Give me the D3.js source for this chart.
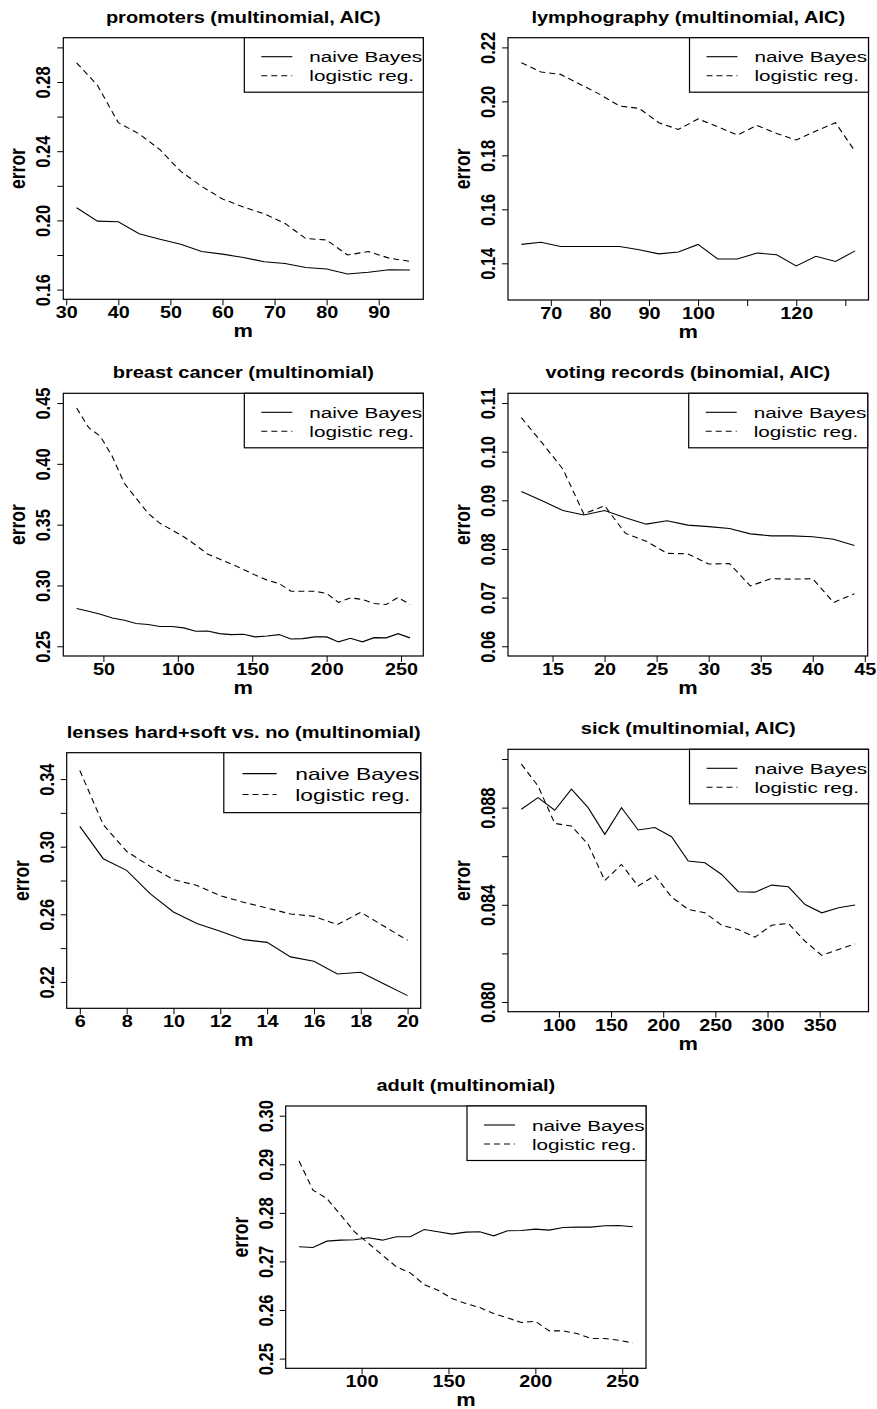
<!DOCTYPE html>
<html>
<head>
<meta charset="utf-8">
<script src="https://cdnjs.cloudflare.com/ajax/libs/d3/7.8.5/d3.min.js"></script>
<style>
  body { margin: 0; background: #fff; }
  svg text { font-family: "Liberation Sans", Arial, Helvetica, sans-serif; }
</style>
</head>
<body>
<div id="chart"></div>
<script>
// ---- data ----
const seriesNames = ["naive Bayes", "logistic reg."];

const promotersM = [32, 36, 40, 44, 48, 52, 56, 60, 64, 68, 72, 76, 80, 84, 88, 92, 96];
const promotersNaive = [0.2073, 0.1996, 0.1992, 0.1923, 0.1891, 0.1862, 0.1820, 0.1805, 0.1786, 0.1761, 0.1751, 0.1728, 0.1719, 0.1690, 0.1700, 0.1715, 0.1713];
const promotersLogit = [0.2911, 0.2781, 0.2565, 0.2500, 0.2409, 0.2283, 0.2197, 0.2124, 0.2078, 0.2038, 0.1983, 0.1895, 0.1887, 0.1800, 0.1820, 0.1782, 0.1763];
const promotersXTicks = [30, 40, 50, 60, 70, 80, 90];
const promotersXLabels = ["30", "40", "50", "60", "70", "80", "90"];
const promotersYTicks = [0.16, 0.18, 0.20, 0.22, 0.24, 0.26, 0.28, 0.30];
const promotersYLabels = ["0.16", "", "0.20", "", "0.24", "", "0.28", ""];

const lymphM = [64, 68, 72, 76, 80, 84, 88, 92, 96, 100, 104, 108, 112, 116, 120, 124, 128, 132];
const lymphNaive = [0.1470, 0.1478, 0.1462, 0.1462, 0.1462, 0.1462, 0.1450, 0.1435, 0.1442, 0.1470, 0.1416, 0.1416, 0.1438, 0.1432, 0.1390, 0.1426, 0.1407, 0.1446];
const lymphLogit = [0.2143, 0.2109, 0.2100, 0.2063, 0.2026, 0.1983, 0.1974, 0.1921, 0.1896, 0.1935, 0.1906, 0.1875, 0.1911, 0.1881, 0.1857, 0.1890, 0.1921, 0.1814];
const lymphXTicks = [70, 80, 90, 100, 110, 120, 130];
const lymphXLabels = ["70", "80", "90", "100", "", "120", ""];
const lymphYTicks = [0.14, 0.16, 0.18, 0.20, 0.22];
const lymphYLabels = ["0.14", "0.16", "0.18", "0.20", "0.22"];

const breastM = [32, 40, 48, 56, 64, 72, 80, 88, 96, 104, 112, 120, 128, 136, 144, 152, 160, 168, 176, 184, 192, 200, 208, 216, 224, 232, 240, 248, 256];
const breastNaive = [0.2810, 0.2788, 0.2764, 0.2733, 0.2714, 0.2687, 0.2679, 0.2662, 0.2662, 0.2651, 0.2624, 0.2626, 0.2604, 0.2596, 0.2599, 0.2577, 0.2585, 0.2596, 0.2560, 0.2563, 0.2577, 0.2577, 0.2536, 0.2566, 0.2536, 0.2571, 0.2569, 0.2604, 0.2569];
const breastLogit = [0.4459, 0.4299, 0.4225, 0.4060, 0.3840, 0.3717, 0.3593, 0.3511, 0.3456, 0.3401, 0.3332, 0.3258, 0.3217, 0.3176, 0.3132, 0.3085, 0.3044, 0.3016, 0.2953, 0.2953, 0.2953, 0.2934, 0.2860, 0.2898, 0.2885, 0.2852, 0.2843, 0.2901, 0.2843];
const breastXTicks = [50, 100, 150, 200, 250];
const breastXLabels = ["50", "100", "150", "200", "250"];
const breastYTicks = [0.25, 0.30, 0.35, 0.40, 0.45];
const breastYLabels = ["0.25", "0.30", "0.35", "0.40", "0.45"];

const votingM = [12, 14, 16, 18, 20, 22, 24, 26, 28, 30, 32, 34, 36, 38, 40, 42, 44];
const votingNaive = [0.0918, 0.0899, 0.0879, 0.0870, 0.0879, 0.0864, 0.0851, 0.0858, 0.0849, 0.0846, 0.0842, 0.0831, 0.0827, 0.0827, 0.0825, 0.0820, 0.0807];
const votingLogit = [0.1070, 0.1018, 0.0964, 0.0872, 0.0889, 0.0832, 0.0816, 0.0791, 0.0790, 0.0769, 0.0770, 0.0724, 0.0739, 0.0738, 0.0739, 0.0690, 0.0708];
const votingXTicks = [15, 20, 25, 30, 35, 40, 45];
const votingXLabels = ["15", "20", "25", "30", "35", "40", "45"];
const votingYTicks = [0.06, 0.07, 0.08, 0.09, 0.10, 0.11];
const votingYLabels = ["0.06", "0.07", "0.08", "0.09", "0.10", "0.11"];

const lensesM = [6, 7, 8, 9, 10, 11, 12, 13, 14, 15, 16, 17, 18, 19, 20];
const lensesNaive = [0.3120, 0.2929, 0.2860, 0.2722, 0.2614, 0.2545, 0.2500, 0.2450, 0.2434, 0.2348, 0.2322, 0.2247, 0.2257, 0.2188, 0.2119];
const lensesLogit = [0.3451, 0.3130, 0.2972, 0.2884, 0.2805, 0.2771, 0.2710, 0.2671, 0.2637, 0.2602, 0.2588, 0.2539, 0.2612, 0.2529, 0.2446];
const lensesXTicks = [6, 8, 10, 12, 14, 16, 18, 20];
const lensesXLabels = ["6", "8", "10", "12", "14", "16", "18", "20"];
const lensesYTicks = [0.22, 0.24, 0.26, 0.28, 0.30, 0.32, 0.34];
const lensesYLabels = ["0.22", "", "0.26", "", "0.30", "", "0.34"];

const sickM = [64, 80, 96, 112, 128, 144, 160, 176, 192, 208, 224, 240, 256, 272, 288, 304, 320, 336, 352, 368, 384];
const sickNaive = [0.08793, 0.08841, 0.08789, 0.08876, 0.08800, 0.08690, 0.08800, 0.08708, 0.08718, 0.08680, 0.08580, 0.08573, 0.08525, 0.08454, 0.08452, 0.08481, 0.08474, 0.08401, 0.08367, 0.08388, 0.08399];
const sickLogit = [0.08979, 0.08889, 0.08735, 0.08724, 0.08649, 0.08500, 0.08566, 0.08477, 0.08521, 0.08432, 0.08381, 0.08367, 0.08316, 0.08298, 0.08267, 0.08316, 0.08323, 0.08250, 0.08192, 0.08216, 0.08239];
const sickXTicks = [100, 150, 200, 250, 300, 350];
const sickXLabels = ["100", "150", "200", "250", "300", "350"];
const sickYTicks = [0.080, 0.082, 0.084, 0.086, 0.088, 0.090];
const sickYLabels = ["0.080", "", "0.084", "", "0.088", ""];

const adultM = [64, 72, 80, 88, 96, 104, 112, 120, 128, 136, 144, 152, 160, 168, 176, 184, 192, 200, 208, 216, 224, 232, 240, 248, 256];
const adultNaive = [0.27301, 0.27287, 0.27418, 0.27438, 0.27445, 0.27486, 0.27438, 0.27507, 0.27507, 0.27658, 0.27610, 0.27562, 0.27603, 0.27610, 0.27527, 0.27631, 0.27637, 0.27665, 0.27644, 0.27699, 0.27706, 0.27706, 0.27734, 0.27741, 0.27713];
const adultLogit = [0.29066, 0.28468, 0.28297, 0.27953, 0.27610, 0.27370, 0.27129, 0.26889, 0.26765, 0.26525, 0.26408, 0.26236, 0.26133, 0.26051, 0.25927, 0.25838, 0.25742, 0.25769, 0.25570, 0.25570, 0.25515, 0.25412, 0.25412, 0.25378, 0.25323];
const adultXTicks = [100, 150, 200, 250];
const adultXLabels = ["100", "150", "200", "250"];
const adultYTicks = [0.25, 0.26, 0.27, 0.28, 0.29, 0.30];
const adultYLabels = ["0.25", "0.26", "0.27", "0.28", "0.29", "0.30"];

// panels: titles, axis limits and where each plot box sits on the page
const panels = [
  { title: "promoters (multinomial, AIC)", m: promotersM, naive: promotersNaive, logit: promotersLogit,
    xlim: [32, 96], ylim: [0.16, 0.30], xTicks: promotersXTicks, xLabels: promotersXLabels, yTicks: promotersYTicks, yLabels: promotersYLabels,
    box: [63.3, 37.7, 360, 261.6], legendScale: 1 },
  { title: "lymphography (multinomial, AIC)", m: lymphM, naive: lymphNaive, logit: lymphLogit,
    xlim: [64, 132], ylim: [0.13, 0.22], xTicks: lymphXTicks, xLabels: lymphXLabels, yTicks: lymphYTicks, yLabels: lymphYLabels,
    box: [508, 37.7, 360.5, 262.3], legendScale: 1 },
  { title: "breast cancer (multinomial)", m: breastM, naive: breastNaive, logit: breastLogit,
    xlim: [32, 256], ylim: [0.25, 0.45], xTicks: breastXTicks, xLabels: breastXLabels, yTicks: breastYTicks, yLabels: breastYLabels,
    box: [63.3, 393.3, 360, 262.7], legendScale: 1 },
  { title: "voting records (binomial, AIC)", m: votingM, naive: votingNaive, logit: votingLogit,
    xlim: [12, 44], ylim: [0.06, 0.11], xTicks: votingXTicks, xLabels: votingXLabels, yTicks: votingYTicks, yLabels: votingYLabels,
    box: [508, 393.3, 359.7, 262.7], legendScale: 1 },
  { title: "lenses hard+soft vs. no (multinomial)", m: lensesM, naive: lensesNaive, logit: lensesLogit,
    xlim: [6, 20], ylim: [0.21, 0.35], xTicks: lensesXTicks, xLabels: lensesXLabels, yTicks: lensesYTicks, yLabels: lensesYLabels,
    box: [66.7, 752.7, 354, 255.6], legendScale: 1.1 },
  { title: "sick (multinomial, AIC)", m: sickM, naive: sickNaive, logit: sickLogit,
    xlim: [64, 384], ylim: [0.080, 0.090], xTicks: sickXTicks, xLabels: sickXLabels, yTicks: sickYTicks, yLabels: sickYLabels,
    box: [508, 749.3, 360.5, 262.4], legendScale: 1 },
  { title: "adult (multinomial)", m: adultM, naive: adultNaive, logit: adultLogit,
    xlim: [64, 256], ylim: [0.25, 0.30], xTicks: adultXTicks, xLabels: adultXLabels, yTicks: adultYTicks, yLabels: adultYLabels,
    box: [285.7, 1106, 360.3, 262.3], legendScale: 1 }
];

const W = 877, H = 1409;
// the figure is stretched sideways, so text gets a horizontal scale too
const titleFont = { size: 16, sx: 1.25 };
const tickFont = { size: 16.5, sx: 1.2 };
const labFont = { size: 17.5, sx: 1.25 };
const legFont = { size: 15, sx: 1.38 };

const svg = d3.select("#chart").append("svg")
  .attr("width", W)
  .attr("height", H)
  .attr("viewBox", `0 0 ${W} ${H}`);

svg.append("rect").attr("width", W).attr("height", H).attr("fill", "#fff");

// R-style axis range: limits padded by 4% on both ends
function pad(lim) {
  const e = (lim[1] - lim[0]) * 0.04;
  return [lim[0] - e, lim[1] + e];
}

function drawPanel(p) {
  const [left, top, bw, bh] = p.box;
  const g = svg.append("g").attr("transform", `translate(${left},${top})`);

  const x = d3.scaleLinear().domain(pad(p.xlim)).range([0, bw]);
  const y = d3.scaleLinear().domain(pad(p.ylim)).range([bh, 0]);

  // x axis
  const xAxis = d3.axisBottom(x)
    .tickValues(p.xTicks)
    .tickSize(6)
    .tickSizeOuter(0)
    .tickFormat((d, i) => p.xLabels[i]);
  const gx = g.append("g").attr("transform", `translate(0,${bh})`).call(xAxis);
  gx.select(".domain").remove();
  gx.selectAll(".tick line").attr("stroke", "#000").attr("stroke-width", 1);
  gx.selectAll(".tick text")
    .attr("y", null).attr("dy", null)
    .attr("transform", `translate(0,19) scale(${tickFont.sx},1)`)
    .attr("text-anchor", "middle")
    .style("font-size", tickFont.size + "px")
    .style("font-weight", "bold")
    .attr("fill", "#000");

  // y axis, labels turned sideways like R's default
  const yAxis = d3.axisLeft(y)
    .tickValues(p.yTicks)
    .tickSize(6)
    .tickSizeOuter(0)
    .tickFormat((d, i) => p.yLabels[i]);
  const gy = g.append("g").call(yAxis);
  gy.select(".domain").remove();
  gy.selectAll(".tick line").attr("stroke", "#000").attr("stroke-width", 1);
  gy.selectAll(".tick text")
    .attr("x", null).attr("dy", null)
    .attr("transform", `translate(-13,0) scale(${tickFont.sx},1) rotate(-90)`)
    .attr("text-anchor", "middle")
    .style("font-size", tickFont.size + "px")
    .style("font-weight", "bold")
    .attr("fill", "#000");

  // series lines
  const line = d3.line().x(d => x(d[0])).y(d => y(d[1]));
  g.append("path")
    .datum(p.m.map((v, i) => [v, p.naive[i]]))
    .attr("d", line)
    .attr("fill", "none")
    .attr("stroke", "#000")
    .attr("stroke-width", 1.1);
  g.append("path")
    .datum(p.m.map((v, i) => [v, p.logit[i]]))
    .attr("d", line)
    .attr("fill", "none")
    .attr("stroke", "#000")
    .attr("stroke-width", 1.1)
    .attr("stroke-dasharray", "6,4");

  // plot frame
  g.append("rect")
    .attr("width", bw).attr("height", bh)
    .attr("fill", "none")
    .attr("stroke", "#000")
    .attr("stroke-width", 1.2);

  // title
  g.append("text")
    .attr("transform", `translate(${bw / 2},-15) scale(${titleFont.sx},1)`)
    .attr("text-anchor", "middle")
    .style("font-size", titleFont.size + "px")
    .style("font-weight", "bold")
    .text(p.title);

  // axis titles
  g.append("text")
    .attr("transform", `translate(${bw / 2},${bh + 38}) scale(${labFont.sx},1)`)
    .attr("text-anchor", "middle")
    .style("font-size", labFont.size + "px")
    .style("font-weight", "bold")
    .text("m");
  g.append("text")
    .attr("transform", `translate(-38,${bh / 2}) scale(${labFont.sx},1) rotate(-90)`)
    .attr("text-anchor", "middle")
    .style("font-size", labFont.size + "px")
    .style("font-weight", "bold")
    .text("error");

  // legend in the top right corner
  const s = p.legendScale;
  const lw = 179 * s, lh = 54.5 * s;
  const lg = g.append("g").attr("transform", `translate(${bw - lw},0)`);
  lg.append("rect")
    .attr("width", lw).attr("height", lh)
    .attr("fill", "#fff")
    .attr("stroke", "#000")
    .attr("stroke-width", 1.2);
  seriesNames.forEach((name, i) => {
    const ry = (19 + i * 19) * s;
    lg.append("line")
      .attr("x1", 17 * s).attr("x2", 48 * s)
      .attr("y1", ry).attr("y2", ry)
      .attr("stroke", "#000")
      .attr("stroke-width", 1.1)
      .attr("stroke-dasharray", i === 1 ? "6,4" : null);
    lg.append("text")
      .attr("transform", `translate(${65 * s},${ry + 5.5 * s}) scale(${legFont.sx},1)`)
      .style("font-size", (legFont.size * s) + "px")
      .text(name);
  });
}

panels.forEach(drawPanel);
</script>
</body>
</html>
